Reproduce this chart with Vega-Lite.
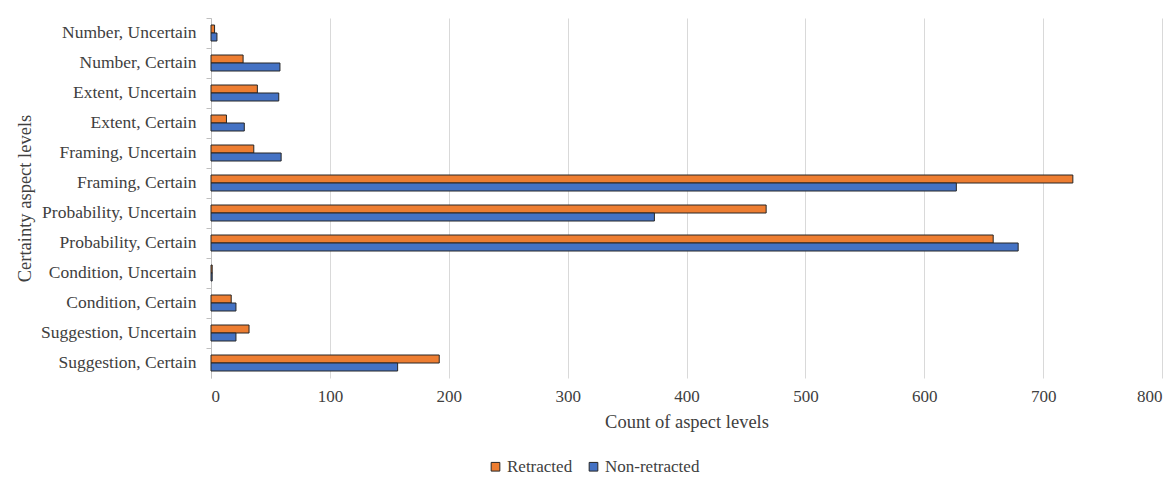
{
  "$schema": "https://vega.github.io/schema/vega-lite/v6.json",
  "autosize": {"type": "none"},
  "padding": {"left": 211, "top": 18, "right": 8, "bottom": 103},
  "width": 951,
  "height": 360,
  "background": "white",
  "config": {
    "view": {"stroke": null},
    "font": "Liberation Serif",
    "axis": {"labelFont": "Liberation Serif", "titleFont": "Liberation Serif", "labelColor": "#404040", "titleColor": "#404040", "titleFontWeight": "normal"},
    "legend": {"labelFont": "Liberation Serif"}
  },
  "data": {
    "values": [
      {"category": "Number, Uncertain", "series": "Retracted", "value": 3},
      {"category": "Number, Uncertain", "series": "Non-retracted", "value": 5},
      {"category": "Number, Certain", "series": "Retracted", "value": 27},
      {"category": "Number, Certain", "series": "Non-retracted", "value": 58},
      {"category": "Extent, Uncertain", "series": "Retracted", "value": 39},
      {"category": "Extent, Uncertain", "series": "Non-retracted", "value": 57},
      {"category": "Extent, Certain", "series": "Retracted", "value": 13},
      {"category": "Extent, Certain", "series": "Non-retracted", "value": 28},
      {"category": "Framing, Uncertain", "series": "Retracted", "value": 36},
      {"category": "Framing, Uncertain", "series": "Non-retracted", "value": 59},
      {"category": "Framing, Certain", "series": "Retracted", "value": 725},
      {"category": "Framing, Certain", "series": "Non-retracted", "value": 627},
      {"category": "Probability, Uncertain", "series": "Retracted", "value": 467},
      {"category": "Probability, Uncertain", "series": "Non-retracted", "value": 373},
      {"category": "Probability, Certain", "series": "Retracted", "value": 658},
      {"category": "Probability, Certain", "series": "Non-retracted", "value": 679},
      {"category": "Condition, Uncertain", "series": "Retracted", "value": 1},
      {"category": "Condition, Uncertain", "series": "Non-retracted", "value": 1},
      {"category": "Condition, Certain", "series": "Retracted", "value": 17},
      {"category": "Condition, Certain", "series": "Non-retracted", "value": 21},
      {"category": "Suggestion, Uncertain", "series": "Retracted", "value": 32},
      {"category": "Suggestion, Uncertain", "series": "Non-retracted", "value": 21},
      {"category": "Suggestion, Certain", "series": "Retracted", "value": 192},
      {"category": "Suggestion, Certain", "series": "Non-retracted", "value": 157}
    ]
  },
  "mark": {"type": "bar", "stroke": "#262626", "strokeWidth": 1},
  "encoding": {
    "y": {
      "field": "category",
      "type": "nominal",
      "sort": ["Number, Uncertain", "Number, Certain", "Extent, Uncertain", "Extent, Certain", "Framing, Uncertain", "Framing, Certain", "Probability, Uncertain", "Probability, Certain", "Condition, Uncertain", "Condition, Certain", "Suggestion, Uncertain", "Suggestion, Certain"],
      "scale": {"paddingInner": 0, "paddingOuter": 0},
      "axis": {
        "title": "Certainty aspect levels",
        "titleFontSize": 18.5,
        "titlePadding": 6,
        "labelFontSize": 17.5,
        "labelPadding": 10,
        "labelOverlap": false,
        "domainColor": "#bfbfbf",
        "tickColor": "#bfbfbf",
        "tickSize": 5,
        "bandPosition": 0
      }
    },
    "yOffset": {
      "field": "series",
      "type": "nominal",
      "sort": ["Retracted", "Non-retracted"],
      "scale": {"paddingInner": 0, "paddingOuter": 0.875}
    },
    "x": {
      "field": "value",
      "type": "quantitative",
      "scale": {"domain": [0, 800], "nice": false},
      "axis": {
        "title": "Count of aspect levels",
        "titleFontSize": 18.5,
        "titlePadding": 8,
        "labelFontSize": 17,
        "labelPadding": 10,
        "labelOverlap": false,
        "values": [0, 100, 200, 300, 400, 500, 600, 700, 800],
        "domain": false,
        "ticks": false,
        "grid": true,
        "gridColor": "#d9d9d9",
        "gridWidth": 1
      }
    },
    "color": {
      "field": "series",
      "type": "nominal",
      "sort": ["Retracted", "Non-retracted"],
      "scale": {"domain": ["Retracted", "Non-retracted"], "range": ["#ED7D31", "#4472C4"]},
      "legend": {
        "title": null,
        "orient": "none",
        "direction": "horizontal",
        "legendX": 276,
        "legendY": 440,
        "symbolType": "square",
        "symbolSize": 75,
        "symbolStrokeColor": "#262626",
        "symbolStrokeWidth": 1,
        "labelFontSize": 17,
        "labelColor": "#404040",
        "columnPadding": 12,
        "labelOffset": 3
      }
    }
  }
}
